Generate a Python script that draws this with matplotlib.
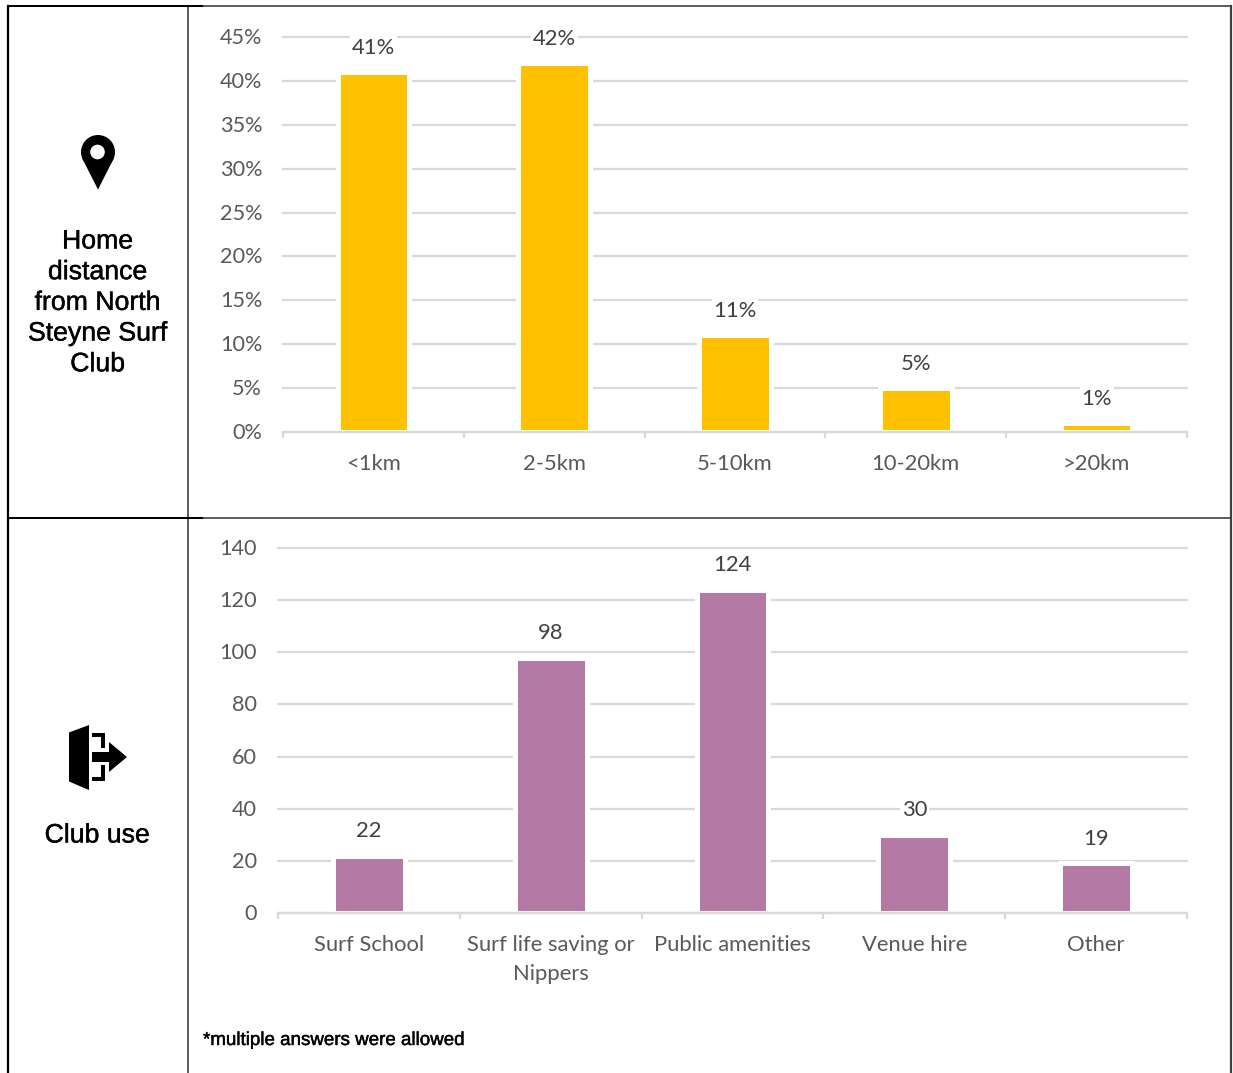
import matplotlib
matplotlib.use("Agg")
import matplotlib.pyplot as plt
import matplotlib.patheffects as pe
from matplotlib.lines import Line2D
from matplotlib.patches import Circle, Polygon, Rectangle
from matplotlib.ticker import FuncFormatter
from matplotlib.transforms import ScaledTranslation

W, H = 1233, 1073
DPI = 100

distance_labels = ["<1km", "2-5km", "5-10km", "10-20km", ">20km"]
distance_values = [41, 42, 11, 5, 1]
distance_ticks = [0, 5, 10, 15, 20, 25, 30, 35, 40, 45]

use_labels = ["Surf School", "Surf life saving or\nNippers", "Public amenities", "Venue hire", "Other"]
use_values = [22, 98, 124, 30, 19]
use_ticks = [0, 20, 40, 60, 80, 100, 120, 140]

GOLD = "#FFC000"
PURPLE = "#B47AA5"
GRID = "#D9D9D9"
TICKTXT = "#595959"
LABELTXT = "#404040"
CHART_FONT = "Lato"
SIDE_FONT = "Liberation Sans"

fig = plt.figure(figsize=(W / DPI, H / DPI), dpi=DPI, facecolor="white")


def px_axes(l, t, r, b):
    return fig.add_axes([l / W, 1 - b / H, (r - l) / W, (b - t) / H])


def draw_chart(ax, labels, values, ticks, ymax, color, fmt, bar_w):
    ax.set_xlim(-0.5, len(labels) - 0.5)
    ax.set_ylim(0, ymax)
    ax.set_axisbelow(True)
    ax.grid(axis="y", color=GRID, lw=1.6, zorder=0, clip_on=False)
    ax.bar(range(len(values)), values, width=bar_w, color=color,
           edgecolor="white", linewidth=3.6, zorder=2)
    for s in ("top", "left", "right"):
        ax.spines[s].set_visible(False)
    ax.spines["bottom"].set_color(GRID)
    ax.spines["bottom"].set_linewidth(1.6)
    ax.spines["bottom"].set_zorder(3)
    ax.set_yticks(ticks)
    ax.yaxis.set_major_formatter(FuncFormatter(fmt))
    ax.tick_params(axis="y", length=0, pad=15, labelsize=15.6, labelcolor=TICKTXT)
    ax.set_xticks([i - 0.5 for i in range(len(labels) + 1)])
    ax.set_xticklabels([])
    ax.tick_params(axis="x", which="major", length=4.5, width=1.6, color=GRID)
    ax.set_xticks(range(len(labels)), minor=True)
    ax.set_xticklabels(labels, minor=True, linespacing=1.58)
    ax.tick_params(axis="x", which="minor", length=0, pad=15.5, labelsize=15.8, labelcolor=TICKTXT)
    for lab in ax.get_xticklabels(minor=True) + ax.get_yticklabels():
        lab.set_fontfamily(CHART_FONT)
    up = ScaledTranslation(0, 1 / DPI, fig.dpi_scale_trans)
    for lab in ax.get_yticklabels():
        lab.set_transform(lab.get_transform() + up)
    for i, v in enumerate(values):
        ax.annotate(fmt(v, None), (i, v), xytext=(0, 10.5), textcoords="offset points",
                    ha="center", va="bottom", fontsize=15.8, color=LABELTXT,
                    family=CHART_FONT, zorder=4,
                    bbox=dict(facecolor="white", edgecolor="none", pad=1.2))


ax1 = px_axes(283, 37, 1187, 432)
draw_chart(ax1, distance_labels, distance_values, distance_ticks, 45, GOLD,
           lambda v, _: f"{v:.0f}%", 0.397)
ax2 = px_axes(278, 548, 1187, 913)
draw_chart(ax2, use_labels, use_values, use_ticks, 140, PURPLE,
           lambda v, _: f"{v:.0f}", 0.396)
for ax in (ax1, ax2):
    for ln in ax.get_ygridlines():
        ln.set_clip_on(False)

# Overlay in pixel coordinates: table rules, icons and side text
ov = fig.add_axes([0, 0, 1, 1], zorder=10)
ov.set_xlim(0, W)
ov.set_ylim(H, 0)
ov.axis("off")
ov.patch.set_alpha(0)

DARK = "#404040"
ov.add_line(Line2D([8, 8], [6, H], color="black", lw=1.6))
ov.add_line(Line2D([188, 188], [6, H], color=DARK, lw=1.2))
ov.add_line(Line2D([1231, 1231], [6, H], color=DARK, lw=1.6))
ov.add_line(Line2D([8, 1231], [6, 6], color=DARK, lw=1.2))
ov.add_line(Line2D([8, 1231], [517.5, 517.5], color=DARK, lw=1.2))
ov.add_line(Line2D([8, 202], [517.5, 517.5], color="black", lw=1.4))
ov.add_line(Line2D([8, 202], [6, 6], color="black", lw=1.4))

# Pin icon
ov.add_patch(Circle((98, 152), 17, fc="black", ec="none"))
ov.add_patch(Polygon([(82, 158), (114, 158), (98, 189.5)], fc="black", ec="none"))
ov.add_patch(Circle((97.5, 152), 7.3, fc="white", ec="none"))

# Exit icon
ov.add_patch(Polygon([(69, 732.5), (89, 725), (89, 790), (69, 781.5)], fc="black", ec="none"))
ov.add_patch(Polygon([(92, 752), (109, 752), (109, 742), (127, 757), (109, 772), (109, 762), (92, 762)],
                     fc="black", ec="none"))
for x, y, w, h in [(92, 732.5, 13, 4), (101, 732.5, 4, 15.5), (92, 777, 13, 4), (101, 765, 4, 16)]:
    ov.add_patch(Rectangle((x, y), w, h, fc="black", ec="none"))

bold = [pe.withStroke(linewidth=0.3, foreground="black")]
side_lines = ["Home", "distance", "from North", "Steyne Surf", "Club"]
for i, t in enumerate(side_lines):
    ov.text(97.5, 241.5 + i * 30.7, t, ha="center", va="center", fontsize=19.2,
            family=SIDE_FONT, color="black", path_effects=bold)
ov.text(97, 835.5, "Club use", ha="center", va="center", fontsize=19.2,
        family=SIDE_FONT, color="black", path_effects=bold)
ov.text(203, 1040.5, "*multiple answers were allowed", ha="left", va="center", fontsize=13.5,
        family=SIDE_FONT, color="black", path_effects=bold)

fig.savefig("out.png", dpi=DPI, facecolor="white")
